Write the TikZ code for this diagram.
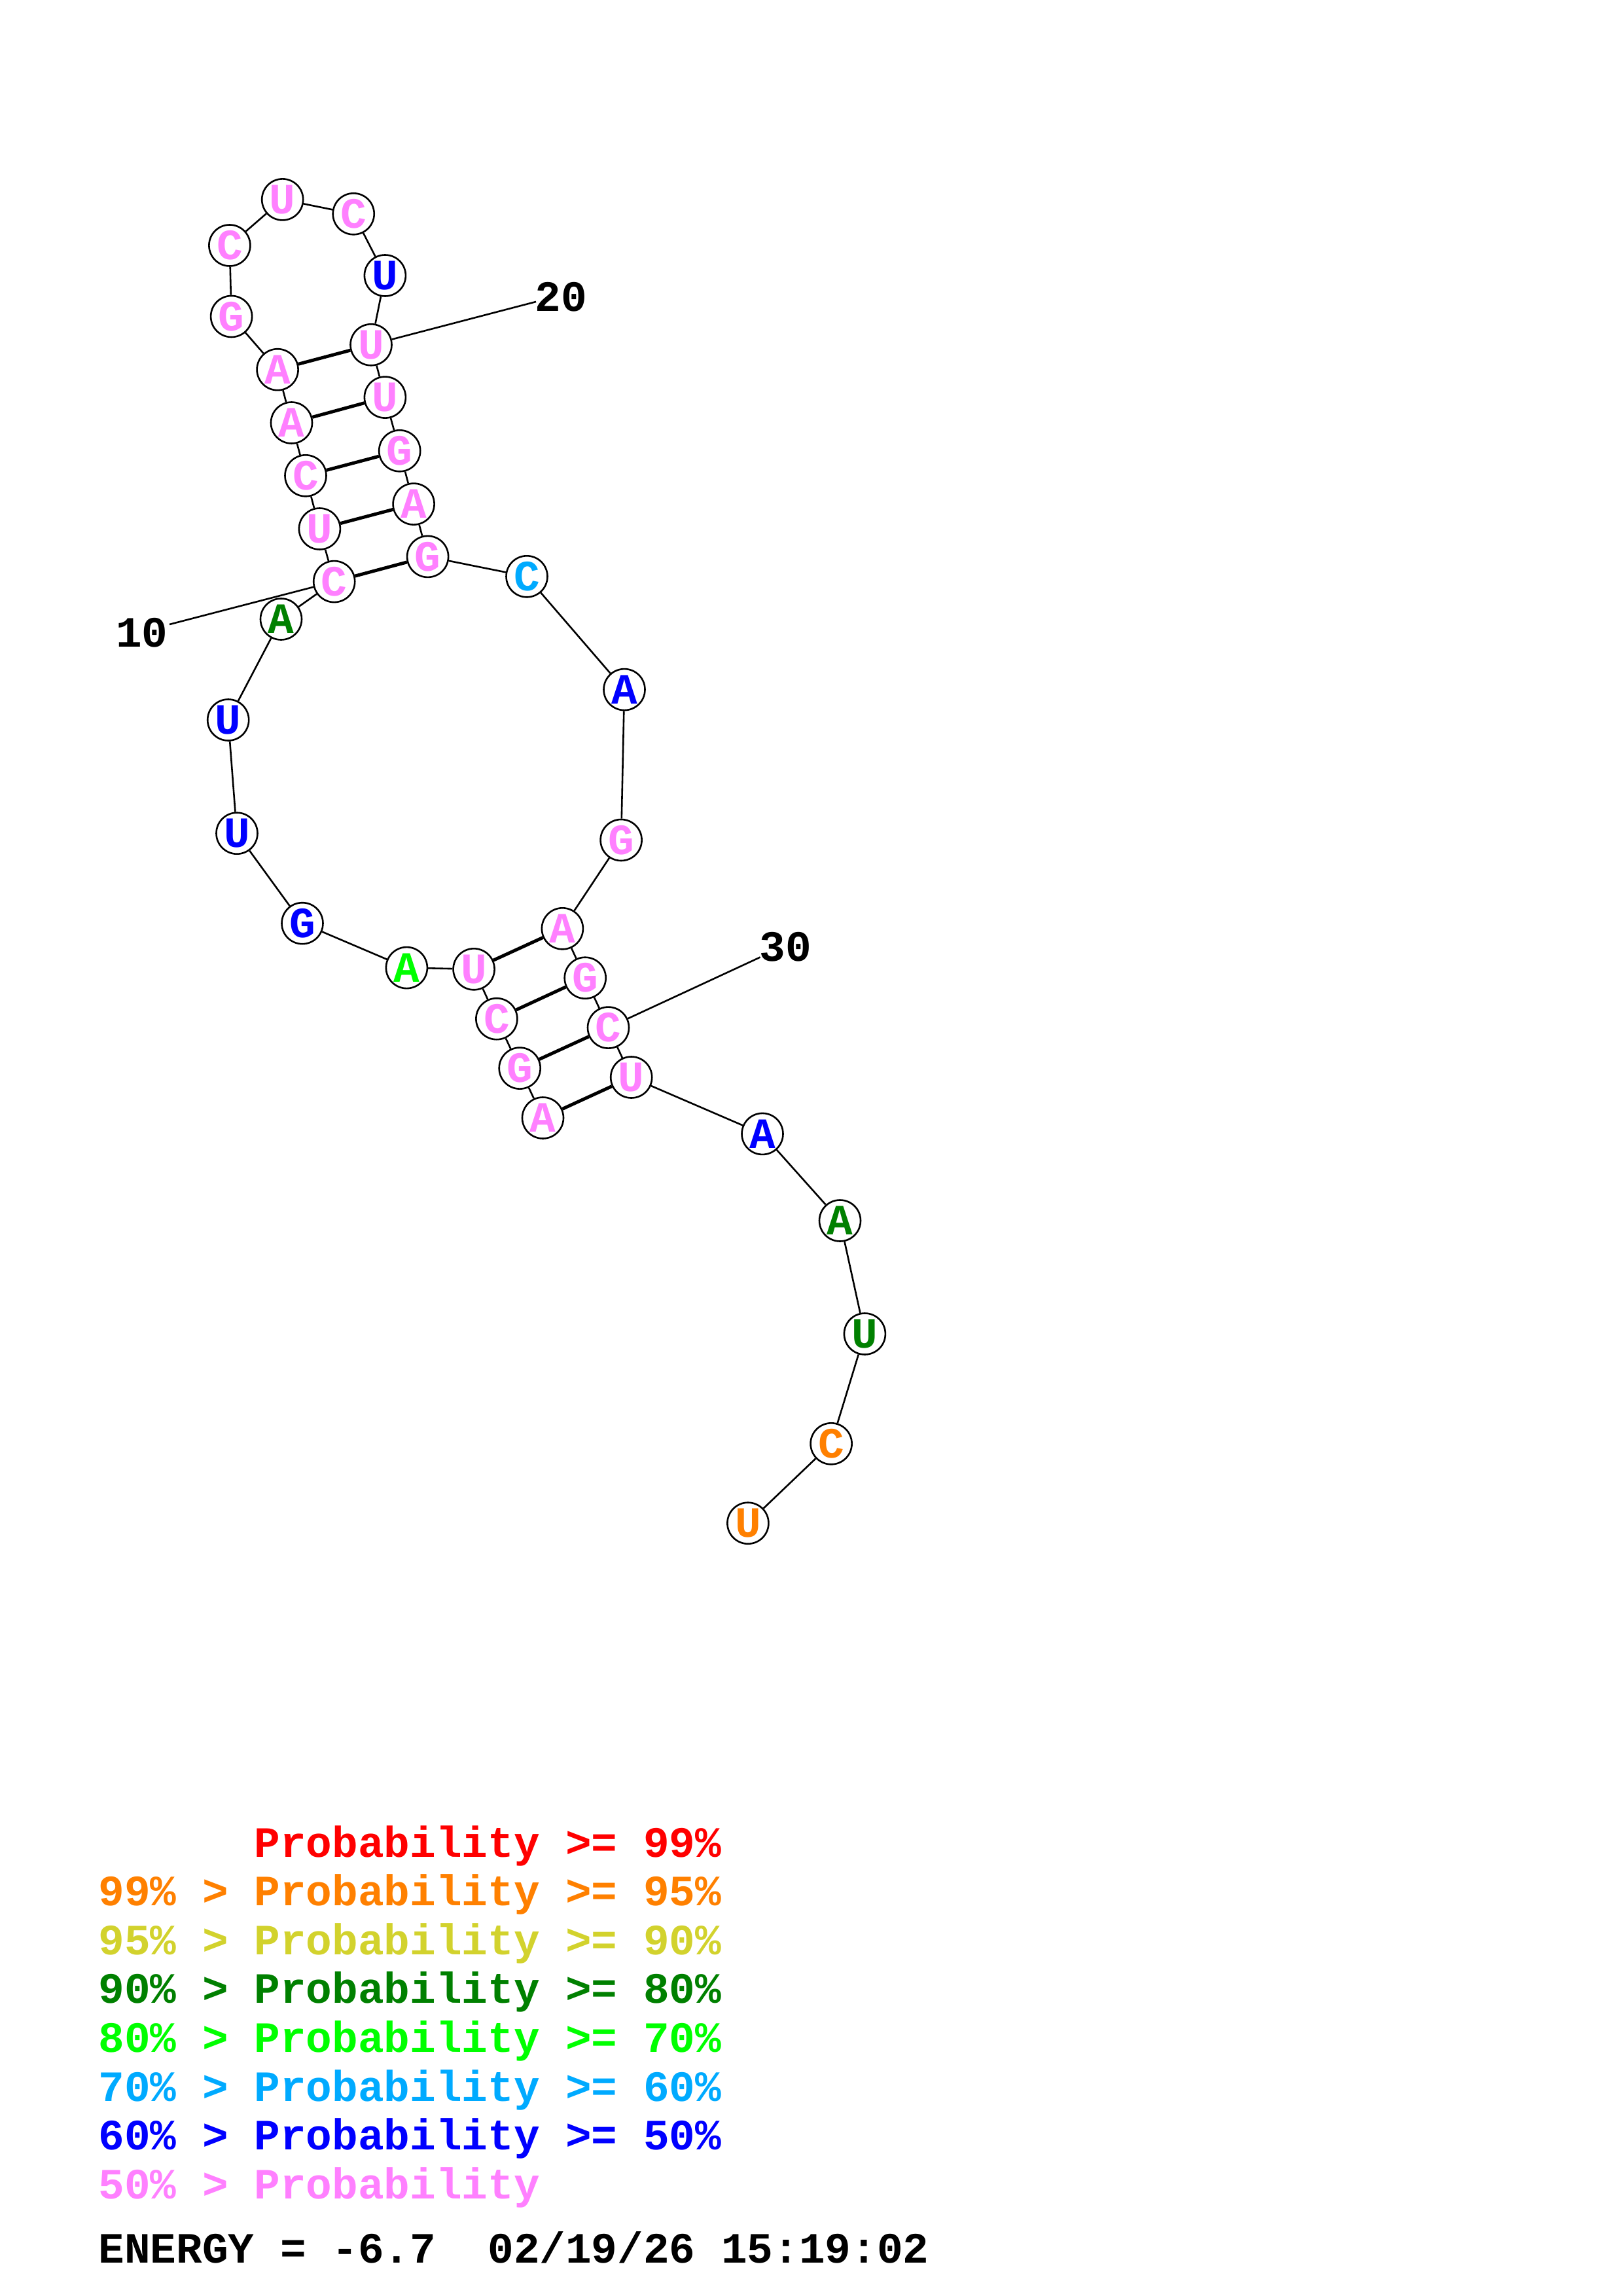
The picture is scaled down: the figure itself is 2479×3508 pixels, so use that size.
\documentclass[tikz,border=0pt]{standalone}
\usepackage{fontspec}
\setmonofont{Liberation Mono}
\definecolor{RED}{HTML}{FF0000}
\definecolor{ORANGE}{HTML}{FF8000}
\definecolor{YELLOW}{HTML}{D2D22D}
\definecolor{DKGREEN}{HTML}{008000}
\definecolor{GREEN}{HTML}{00FF00}
\definecolor{LTBLUE}{HTML}{00AAFF}
\definecolor{BLUE}{HTML}{0000FF}
\definecolor{PINK}{HTML}{FF80FF}
\tikzset{
	every node/.style = {font=\ttfamily\bfseries\fontsize{18.8}{22}\selectfont},
	nuc/.style = {circle, draw, fill=white, line width=.26mm, minimum size=6.3mm, inner sep=0pt},
	bb/.style = {line width=.26mm},
	bond/.style = {line width=.5mm}
}
\begin{document}
\begin{tikzpicture}[x=.1mm, y=-.1mm]
		\useasboundingbox (0,0) rectangle (2479,3508);
		% nucleotides
		\foreach \x/\y/\b/\c [count=\i] in {
			829.5/1708/A/PINK, 794.2/1632.1/G/PINK, 758.9/1556.7/C/PINK, 724.1/1480.8/U/PINK,
			621.4/1478.6/A/GREEN, 462/1410.7/G/BLUE, 362/1273.2/U/BLUE, 348.7/1100/U/BLUE,
			429.5/946/A/DKGREEN, 510.7/888.6/C/PINK, 488.4/808/U/PINK, 467/726.8/C/PINK,
			445.5/646/A/PINK, 424.1/564.7/A/PINK, 353.6/483.5/G/PINK, 350.9/375/C/PINK,
			431.7/304.9/U/PINK, 540.2/326.8/C/PINK, 588.4/421/U/BLUE, 567/526.8/U/PINK,
			588.4/607.1/U/PINK, 610.7/688.8/G/PINK, 632.1/770.1/A/PINK, 653.6/850.4/G/PINK,
			805/880.8/C/LTBLUE, 954/1053.6/A/BLUE, 949.1/1283.5/G/PINK, 859.4/1418.8/A/PINK,
			894.2/1494.2/G/PINK, 929.5/1570.1/C/PINK, 964.7/1646/U/PINK, 1165/1732.4/A/BLUE,
			1283.5/1865/A/DKGREEN, 1321.4/2038/U/DKGREEN, 1270.1/2205.8/C/ORANGE, 1142.9/2327.2/U/ORANGE}
			\node[nuc, text=\c] (n\i) at (\x,\y) {\b};
		% backbone
		\foreach \i [remember=\i as \j (initially 1)] in {2,...,36}
			\draw[bb] (n\j) -- (n\i);
		% pairs
		\foreach \p/\q in {1/31, 2/30, 3/29, 4/28, 10/24, 11/23, 12/22, 13/21, 14/20}
			\draw[bond] (n\p) -- (n\q);
		% numbering
		\coordinate (t10) at (259,954);
		\coordinate (t20) at (819,461);
		\coordinate (t30) at (1161.6,1462.5);
		\draw[bb] (n10) -- (t10) (n20) -- (t20) (n30) -- (t30);
		\node (l10) at (217,967) {10};
		\node (l20) at (857,454) {20};
		\node (l30) at (1200,1447) {30};
		% legend
		\foreach \txt/\col [count=\k from 0] in {
			{\hphantom{99\% > }Probability >= 99\%}/RED,
			{99\% > Probability >= 95\%}/ORANGE,
			{95\% > Probability >= 90\%}/YELLOW,
			{90\% > Probability >= 80\%}/DKGREEN,
			{80\% > Probability >= 70\%}/GREEN,
			{70\% > Probability >= 60\%}/LTBLUE,
			{60\% > Probability >= 50\%}/BLUE,
			{50\% > Probability}/PINK}
			\node[anchor=base west, inner sep=0pt, text=\col] at (150,{2837+74.6*\k}) {\txt};
		\node[anchor=base west, inner sep=0pt] (energy) at (150,3457) {ENERGY = -6.7\ \ 02/19/26 15:19:02};
	\end{tikzpicture}
\end{document}
